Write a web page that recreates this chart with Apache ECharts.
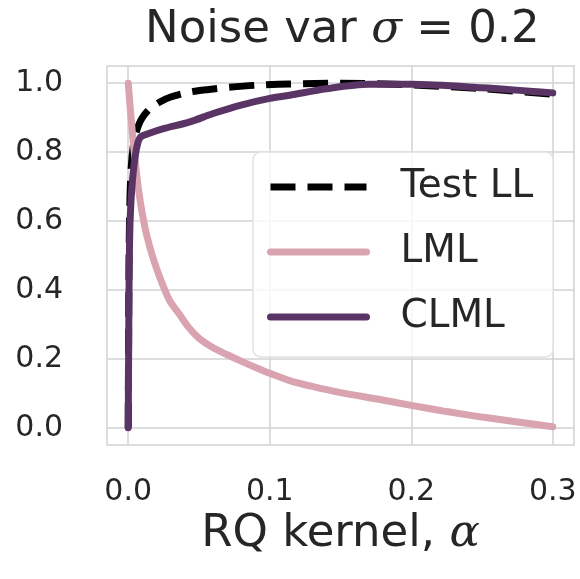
<!DOCTYPE html>
<html>
<head>
<meta charset="utf-8">
<script src="https://cdn.jsdelivr.net/npm/echarts@6/dist/echarts.min.js"></script>
<style>
  html, body { margin: 0; padding: 0; background: #fff; }
  #chart { width: 580px; height: 579px; }
</style>
</head>
<body>
<div id="chart"></div>
<script>
const xTicks = [0, 0.1, 0.2, 0.3];
const yTicks = [0, 0.2, 0.4, 0.6, 0.8, 1.0];

const testX = [0, 0.0005, 0.001, 0.002, 0.004, 0.007, 0.01, 0.015, 0.022, 0.03, 0.043, 0.057, 0.071, 0.09, 0.114, 0.15, 0.2, 0.25, 0.3];
const testY = [0, 0.45, 0.62, 0.75, 0.83, 0.875, 0.9, 0.925, 0.945, 0.96, 0.974, 0.982, 0.988, 0.994, 0.998, 1.0, 0.995, 0.984, 0.968];

const lmlX = [0, 0.002, 0.004, 0.007, 0.01, 0.013, 0.017, 0.022, 0.029, 0.036, 0.043, 0.05, 0.06, 0.07, 0.079, 0.09, 0.1, 0.114, 0.13, 0.15, 0.178, 0.2, 0.225, 0.25, 0.275, 0.3];
const lmlY = [1.0, 0.9, 0.81, 0.7, 0.62, 0.56, 0.5, 0.44, 0.371, 0.33, 0.29, 0.26, 0.232, 0.212, 0.195, 0.175, 0.158, 0.137, 0.12, 0.102, 0.082, 0.065, 0.047, 0.031, 0.017, 0.003];

const clmlX = [0, 0.0004, 0.0008, 0.0015, 0.003, 0.005, 0.007, 0.009, 0.015, 0.025, 0.043, 0.06, 0.079, 0.1, 0.114, 0.14, 0.17, 0.2, 0.25, 0.3];
const clmlY = [0, 0.3, 0.5, 0.62, 0.72, 0.79, 0.83, 0.845, 0.855, 0.868, 0.887, 0.912, 0.936, 0.956, 0.965, 0.984, 0.997, 0.997, 0.987, 0.972];

const names = ["Test LL", "LML", "CLML"];
const colors = ["#000000", "#d9a3b0", "#5b3466"];

const pairs = (xs, ys) => xs.map((x, i) => [x, ys[i]]);

const font = "DejaVu Sans";
const ink = "#262626";
const gridColor = "#d2d2d2";

const mathRich = size => ({
  a: { fontFamily: font, fontSize: size, fontWeight: "normal", color: ink },
  s: { fontFamily: "DejaVu Serif", fontStyle: "italic", fontWeight: "normal", fontSize: size, color: ink }
});

const chart = echarts.init(document.getElementById("chart"));

chart.setOption({
  animation: false,
  backgroundColor: "#fff",
  title: {
    text: "{a|Noise var }{s|σ}{a| = 0.2}",
    left: 140,
    top: 3,
    textStyle: { fontWeight: "normal", rich: mathRich(45) }
  },
  grid: {
    left: 107, top: 66, right: 6, bottom: 134,
    show: true, borderColor: gridColor, borderWidth: 1.5, backgroundColor: "#fff"
  },
  legend: {
    orient: "vertical",
    left: 253, top: 152,
    padding: [15, 20, 20, 14],
    itemWidth: 96, itemHeight: 8, itemGap: 25,
    backgroundColor: "rgba(255,255,255,0.8)",
    borderColor: "#e2e2e2", borderWidth: 1.5, borderRadius: 8,
    itemStyle: { opacity: 0 },
    lineStyle: { width: 7 },
    textStyle: { fontFamily: font, fontSize: 39, lineHeight: 40, color: ink, padding: [0, 0, 0, 29] },
    data: names
  },
  xAxis: {
    type: "value",
    min: -0.015, max: 0.315,
    name: "{a|RQ kernel, }{s|α}",
    nameLocation: "middle",
    nameGap: 56,
    nameTextStyle: { rich: mathRich(45) },
    axisLine: { show: false, onZero: false },
    axisTick: { show: false, customValues: xTicks },
    axisLabel: { customValues: xTicks, margin: 32, fontFamily: font, fontSize: 30, color: ink, formatter: v => v.toFixed(1) },
    splitLine: { show: true, lineStyle: { color: gridColor, width: 1.5 } }
  },
  yAxis: {
    type: "value",
    min: -0.05, max: 1.05,
    axisLine: { show: false, onZero: false },
    axisTick: { show: false, customValues: yTicks },
    axisLabel: { customValues: yTicks, margin: 44, fontFamily: font, fontSize: 30, color: ink, formatter: v => v.toFixed(1) },
    splitLine: { show: true, lineStyle: { color: gridColor, width: 1.5 } }
  },
  series: [
    {
      name: names[0], type: "line", data: pairs(testX, testY),
      symbol: "none", showSymbol: false, smooth: 0.3,
      color: colors[0],
      lineStyle: { color: colors[0], width: 7, type: [25, 12], cap: "butt" }
    },
    {
      name: names[1], type: "line", data: pairs(lmlX, lmlY),
      symbol: "none", showSymbol: false, smooth: 0.3,
      color: colors[1],
      lineStyle: { color: colors[1], width: 7, cap: "round" }
    },
    {
      name: names[2], type: "line", data: pairs(clmlX, clmlY),
      symbol: "none", showSymbol: false, smooth: 0.3,
      color: colors[2],
      lineStyle: { color: colors[2], width: 7, cap: "round" }
    }
  ]
});
</script>
</body>
</html>
